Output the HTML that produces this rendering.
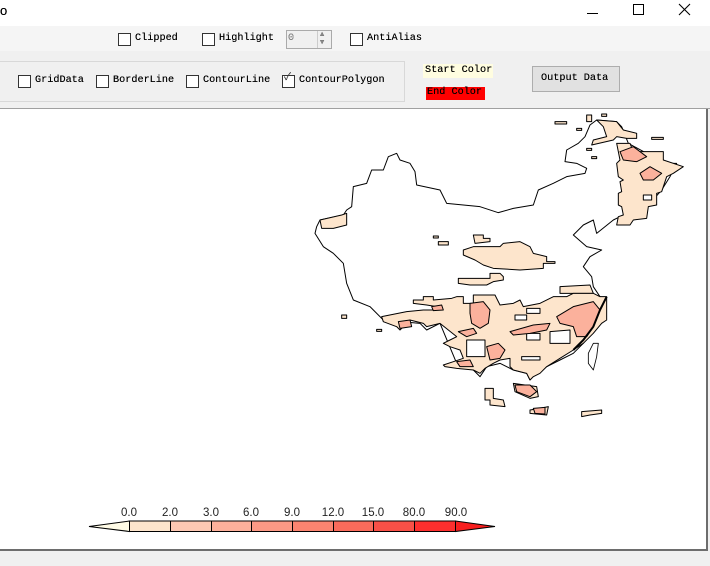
<!DOCTYPE html>
<html><head><meta charset="utf-8"><style>
*{margin:0;padding:0;box-sizing:border-box}
body{width:710px;height:566px;overflow:hidden;background:#f0f0f0;position:relative;font-family:"Liberation Mono","Noto Sans CJK SC",monospace;font-size:10px;color:#000}
.a{position:absolute}
.cb{position:absolute;width:13px;height:13px;border:1px solid #333;background:#fff}
.t{position:absolute;font-size:10.2px;line-height:14px;letter-spacing:0;text-shadow:0 0 0.3px #000}
</style></head><body>
<div class="a" style="left:0;top:0;width:710px;height:26px;background:#fff"></div>
<div class="t" style="left:0;top:4px;font-family:'Liberation Sans',sans-serif;font-size:13px">o</div>
<div class="a" style="left:587px;top:13px;width:11px;height:1px;background:#000"></div>
<div class="a" style="left:633px;top:4px;width:11px;height:11px;border:1px solid #000"></div>
<svg class="a" style="left:678px;top:3px" width="13" height="13"><path d="M1 1L12 12M12 1L1 12" stroke="#000" stroke-width="1.1"/></svg>
<div class="a" style="left:0;top:26px;width:710px;height:25px;background:#f5f5f5"></div>
<div class="cb" style="left:118px;top:33px"></div><div class="t" style="left:135px;top:32px">Clipped</div>
<div class="cb" style="left:202px;top:33px"></div><div class="t" style="left:219px;top:32px">Highlight</div>
<div class="a" style="left:286px;top:30px;width:46px;height:19px;border:1px solid #aaa;background:#f0f0f0"></div>
<div class="t" style="left:288px;top:32px;color:#999">0</div>
<div class="a" style="left:317px;top:31px;width:14px;height:17px;border-left:1px solid #ccc"></div>
<div class="t" style="left:320px;top:28px;font-size:7px;color:#888">▲</div><div class="t" style="left:320px;top:36px;font-size:7px;color:#888">▼</div>
<div class="cb" style="left:350px;top:33px"></div><div class="t" style="left:367px;top:32px">AntiAlias</div>
<div class="a" style="left:-1px;top:61px;width:406px;height:41px;border:1px solid #d8d8d8"></div>
<div class="cb" style="left:18px;top:75px"></div><div class="t" style="left:35px;top:74px">GridData</div>
<div class="cb" style="left:96px;top:75px"></div><div class="t" style="left:113px;top:74px">BorderLine</div>
<div class="cb" style="left:186px;top:75px"></div><div class="t" style="left:203px;top:74px">ContourLine</div>
<div class="cb" style="left:282px;top:75px"></div><div class="t" style="left:284px;top:72px;color:#444">✓</div><div class="t" style="left:299px;top:74px">ContourPolygon</div>
<div class="a" style="left:423px;top:64px;width:70px;height:14px;background:#fffde0"></div><div class="t" style="left:425px;top:64px">Start Color</div>
<div class="a" style="left:426px;top:87px;width:59px;height:13px;background:#f00"></div><div class="t" style="left:427px;top:86px">End Color</div>
<div class="a" style="left:532px;top:66px;width:88px;height:26px;border:1px solid #adadad;background:#e1e1e1"></div><div class="t" style="left:541px;top:72px">Output Data</div>
<div class="a" style="left:0;top:108px;width:710px;height:1px;background:#a0a0a0"></div>
<div class="a" style="left:0;top:109px;width:708px;height:442px;background:#fff;border-right:2px solid #6d6d6d;border-bottom:2px solid #6d6d6d"></div>
<svg class="a" style="left:0;top:0" width="710" height="566">
<g transform="translate(300,110) scale(0.33333)" stroke="#000" stroke-width="3" stroke-linejoin="round">
<path fill="none" d="M50,350 60,330 130,315 140,300 155,290 160,230 200,220 215,180 250,180 265,140 290,130 300,150 330,160 345,185 350,225 420,240 440,280 540,290 595,308 640,295 700,285 715,240 760,220 800,200 855,190 860,175 830,160 795,155 800,120 835,100 855,80 870,45 890,30 950,35 965,50 985,100 1040,130 1090,160 1130,160 1110,200 1085,240 1050,280 1000,300 960,320 940,330 890,370 880,330 850,345 820,375 860,410 905,420 870,440 850,470 875,500 880,530 900,560 910,600 880,660 850,700 820,730 780,750 740,770 700,790 690,810 680,790 640,780 600,760 560,770 540,800 520,780 470,760 420,640 380,660 360,640 250,630 210,590 160,570 140,520 130,460 100,430 70,410 45,370Z"/>
<g fill="#fde5cc">
<path d="M950,100 990,100 1000,125 1090,125 1090,150 1150,170 1120,190 1100,200 1085,245 1070,250 1070,285 1045,290 1040,325 1000,330 990,345 950,345 955,320 970,315 965,290 955,285 955,250 965,245 960,215 970,210 955,200 950,160 960,150Z"/>
<path d="M890,30 950,35 970,60 1010,70 1010,85 980,85 950,80 940,90 875,105 880,90 920,80 910,50Z"/>
<path d="M490,420 520,410 600,410 610,400 660,395 690,410 700,430 740,440 740,455 765,455 765,460 730,460 730,475 660,480 580,475 550,465 525,450 490,435Z"/>
<path d="M520,375 550,375 550,385 570,385 570,395 525,400Z"/>
<path d="M475,505 570,505 570,490 600,490 610,500 610,510 580,515 560,525 510,525 475,520Z"/>
<path d="M60,330 125,315 140,310 140,345 100,355 65,355Z"/>
<path d="M780,530 870,525 880,550 780,550Z"/>
<path d="M340,570 370,570 370,560 400,560 400,570 455,565 470,560 490,560 490,580 520,580 520,555 585,555 600,585 640,580 660,570 670,590 720,580 760,560 800,560 820,550 880,550 900,560 920,560 920,630 905,640 880,670 850,700 820,720 780,745 740,770 720,790 700,800 690,810 680,790 640,780 630,770 630,745 600,750 580,760 555,775 540,790 520,780 470,775 435,770 430,765 460,755 490,745 480,720 450,710 430,700 450,690 470,680 445,660 420,640 380,650 370,640 330,630 300,660 290,650 250,635 245,620 320,605 370,600 400,600 410,590 380,585 340,580Z"/>
<path d="M555,835 580,835 580,865 610,870 615,890 570,885 570,870 555,870Z"/>
<path d="M690,900 720,895 745,890 740,915 690,910Z"/>
<path d="M845,905 905,900 905,910 870,915 845,920Z"/>
<path d="M640,820 710,830 715,860 690,865 645,845Z"/>
<rect x="860" y="15" width="15" height="20"/><rect x="905" y="12" width="15" height="7"/><rect x="765" y="35" width="35" height="7"/><rect x="830" y="55" width="15" height="6"/><rect x="1055" y="82" width="35" height="6"/><rect x="860" y="115" width="15" height="6"/><rect x="875" y="140" width="15" height="6"/><rect x="400" y="378" width="15" height="6"/><rect x="415" y="395" width="30" height="10"/><rect x="125" y="615" width="15" height="10"/><rect x="230" y="658" width="15" height="6"/>
</g>
<g fill="#fff">
<path d="M680,595 720,595 720,610 680,610Z"/><path d="M645,615 680,615 680,630 645,630Z"/>
<path d="M750,665 810,660 810,700 750,700Z"/><path d="M665,740 720,740 720,750 665,750Z"/>
<path d="M500,690 555,690 555,740 500,740Z"/><path d="M680,670 720,670 720,690 680,690Z"/>
<path d="M1030,255 1055,255 1055,270 1030,270Z"/>
</g>
<g fill="#fbb19c">
<path d="M510,580 550,575 570,600 565,640 540,655 515,640 510,610Z"/>
<path d="M630,665 700,645 750,640 740,660 690,670 640,675Z"/>
<path d="M770,620 820,590 880,575 900,600 880,650 860,680 830,680 820,650 780,640Z"/>
<path d="M560,710 595,700 615,720 600,745 570,750Z"/>
<path d="M960,125 1000,110 1040,140 1010,155 970,150Z"/>
<path d="M1020,190 1050,170 1085,190 1060,210 1030,210Z"/>
<path d="M475,665 520,655 530,670 500,680Z"/>
<path d="M470,755 510,750 520,770 480,770Z"/>
<path d="M645,825 690,825 710,845 690,860 650,845Z"/>
<path d="M700,895 735,892 735,912 705,910Z"/>
<path d="M395,590 425,585 430,600 400,602Z"/>
<path d="M295,635 330,630 335,650 300,655Z"/>
</g>
<path fill="none" d="M880,700 895,700 890,740 880,780 865,760 865,730Z" stroke-width="2.5"/>
<path fill="none" d="M920,560 900,600 880,650 850,690 820,720" stroke-width="6"/>
</g>
<g stroke="#000" stroke-width="1">
<path d="M89,526.5 129.5,521 129.5,531.5Z" fill="#fffbe6"/>
<rect x="129.5" y="521" width="41" height="10.5" fill="#fde5cc"/>
<rect x="170.5" y="521" width="41" height="10.5" fill="#fdc8b3"/>
<rect x="211.5" y="521" width="40" height="10.5" fill="#fdb09b"/>
<rect x="251.5" y="521" width="41" height="10.5" fill="#fc9985"/>
<rect x="292.5" y="521" width="41" height="10.5" fill="#fb8470"/>
<rect x="333.5" y="521" width="40" height="10.5" fill="#fa6b5b"/>
<rect x="373.5" y="521" width="41" height="10.5" fill="#f95047"/>
<rect x="414.5" y="521" width="41" height="10.5" fill="#fd2f2e"/>
<path d="M455.5,521 495,526.5 455.5,531.5Z" fill="#f71e1e"/>
</g>
<g font-family="Liberation Sans,sans-serif" font-size="11.5" fill="#222" text-anchor="middle">
<text x="129" y="516">0.0</text><text x="170" y="516">2.0</text><text x="211" y="516">3.0</text><text x="251" y="516">6.0</text><text x="292" y="516">9.0</text><text x="333" y="516">12.0</text><text x="373" y="516">15.0</text><text x="414" y="516">80.0</text><text x="456" y="516">90.0</text>
</g>
</svg>
</body></html>
